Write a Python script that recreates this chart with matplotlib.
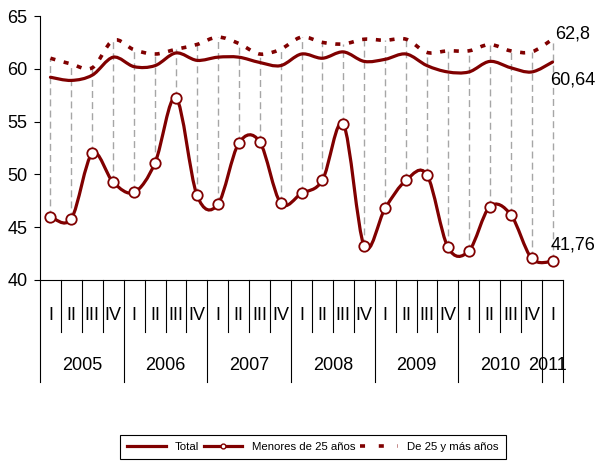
import numpy as np
import matplotlib
matplotlib.use("Agg")
import matplotlib.pyplot as plt
import matplotlib.transforms as mtransforms
from matplotlib.path import Path
from matplotlib.patches import PathPatch
from matplotlib.lines import Line2D

plt.rcParams['font.family'] = ['Liberation Sans Narrow', 'Liberation Sans', 'DejaVu Sans']

trimestres = ["I", "II", "III", "IV"] * 6 + ["I"]
anios = ["2005", "2006", "2007", "2008", "2009", "2010", "2011"]

total = [59.2, 58.9, 59.4, 61.1, 60.2, 60.3, 61.5, 60.8, 61.1, 61.1, 60.6, 60.3,
         61.4, 61.0, 61.6, 60.7, 60.9, 61.4, 60.3, 59.7, 59.7, 60.7, 60.1, 59.7,
         60.64]
menores = [46.0, 45.8, 52.0, 49.25, 48.3, 51.1, 57.25, 48.05, 47.15, 52.95, 53.1, 47.3,
           48.2, 49.45, 54.75, 43.2, 46.8, 49.45, 49.95, 43.1, 42.75, 46.95, 46.2, 42.05,
           41.76]
mayores = [61.0, 60.45, 60.1, 62.7, 61.8, 61.4, 61.85, 62.3, 63.0, 62.4, 61.4, 61.85,
           63.0, 62.5, 62.35, 62.8, 62.7, 62.8, 61.55, 61.7, 61.7, 62.3, 61.7, 61.6,
           62.8]

ROJO = "#800000"
GRIS = "#A6A6A6"
TAM = 13


def curva_suave(x, y):
    """Camino Bezier tipo 'linea suavizada' de Excel que pasa por los puntos."""
    n = len(x)
    verts = [(x[0], y[0])]
    codes = [Path.MOVETO]
    for i in range(n - 1):
        xa, ya = (x[i - 1], y[i - 1]) if i > 0 else (x[i], y[i])
        xd, yd = (x[i + 2], y[i + 2]) if i + 2 < n else (x[i + 1], y[i + 1])
        c1 = (x[i] + (x[i + 1] - xa) / 6, y[i] + (y[i + 1] - ya) / 6)
        c2 = (x[i + 1] - (xd - x[i]) / 6, y[i + 1] - (yd - y[i]) / 6)
        verts += [c1, c2, (x[i + 1], y[i + 1])]
        codes += [Path.CURVE4] * 3
    return Path(verts, codes)


x = np.arange(len(trimestres))
fig = plt.figure(figsize=(6.03, 4.62), dpi=100)
ax = fig.add_axes([40 / 603, 1 - 280 / 462, 523 / 603, 264 / 462])

# lineas de maximo-minimo
lo = np.minimum(np.minimum(total, menores), mayores)
hi = np.maximum(np.maximum(total, menores), mayores)
ax.vlines(x, lo, hi, colors=GRIS, linewidth=1, linestyles=(0, (5, 3)), zorder=1)

ax.add_patch(PathPatch(curva_suave(x, total), fill=False, edgecolor=ROJO,
                       linewidth=2.3, zorder=3, capstyle='round'))
ax.add_patch(PathPatch(curva_suave(x, mayores), fill=False, edgecolor=ROJO,
                       linewidth=2.6, linestyle=(0, (1.4, 2.4)), zorder=3,
                       capstyle='butt'))
ax.add_patch(PathPatch(curva_suave(x, menores), fill=False, edgecolor=ROJO,
                       linewidth=2.3, zorder=3, capstyle='round'))
ax.plot(x, menores, 'o', ls='none', mfc='white', mec=ROJO, ms=7.5, mew=1.3, zorder=4)

# etiquetas del ultimo dato
ult = len(x) - 1
ax.annotate("62,8", (x[ult], mayores[ult]), xytext=(2, 4), textcoords='offset points',
            ha='left', va='center', fontsize=TAM)
ax.annotate("60,64", (x[ult], total[ult]), xytext=(-1.5, -13), textcoords='offset points',
            ha='left', va='center', fontsize=TAM)
ax.annotate("41,76", (x[ult], menores[ult]), xytext=(-1.5, 11.5), textcoords='offset points',
            ha='left', va='center', fontsize=TAM)

ax.set_xlim(-0.5, len(x) - 0.5)
ax.set_ylim(40, 65)
ax.set_yticks([40, 45, 50, 55, 60, 65])
ax.set_xticks([])
ax.tick_params(axis='y', direction='out', length=4, width=0.8, pad=5, labelsize=TAM)
for s in ['top', 'right']:
    ax.spines[s].set_visible(False)
for s in ['left', 'bottom']:
    ax.spines[s].set_linewidth(0.8)
    ax.spines[s].set_color('black')

# eje de categorias en dos niveles
trans = mtransforms.blended_transform_factory(ax.transData, ax.transAxes)
prof_trim = -51.7 / 264
prof_anio = -102 / 264
for i in range(len(x) + 1):
    pos = i - 0.5
    fin = prof_anio if (i % 4 == 0 or i == len(x)) else prof_trim
    ax.plot([pos, pos], [0, fin], color='black', lw=0.8, transform=trans, clip_on=False)
for i, q in enumerate(trimestres):
    ax.text(x[i], -35 / 264, q, transform=trans, ha='center', va='center', fontsize=TAM)
for k, a in enumerate(anios):
    centro = 4 * k + 1.5 if k < 6 else 23.75
    ax.text(centro, -85 / 264, a, transform=trans, ha='center', va='center', fontsize=TAM)

handles = [
    Line2D([], [], color=ROJO, lw=2.3),
    Line2D([], [], color=ROJO, lw=2.3, marker='o', ms=3.5, mfc='white', mec=ROJO, mew=1),
    Line2D([], [], color=ROJO, lw=2.6, ls=(0, (1.4, 3.8))),
]
leg = fig.legend(handles, ["Total", "Menores de 25 años", "De 25 y más años"],
                 loc='center', bbox_to_anchor=(313 / 603, 1 - 447 / 462), ncol=3,
                 fancybox=False, edgecolor='black', framealpha=1, fontsize=8.2,
                 handlelength=3.4, handletextpad=0.8, columnspacing=0.4,
                 borderpad=0.65, borderaxespad=0)
leg.get_frame().set_linewidth(0.8)

fig.savefig("out.png", dpi=100)
